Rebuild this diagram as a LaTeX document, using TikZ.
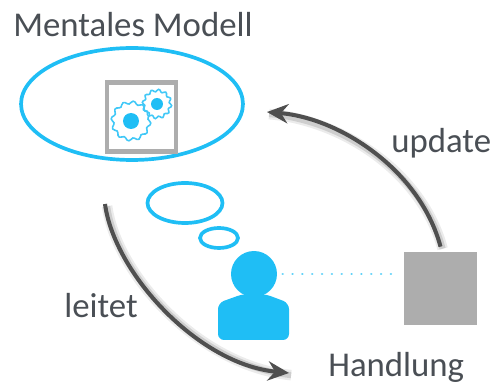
\documentclass[tikz,border=0pt]{standalone}
\usepackage{fontspec}
\setmainfont{Carlito}
\usetikzlibrary{arrows.meta,shapes.geometric}
\definecolor{himmel}{HTML}{1FBEF5}
\definecolor{grau}{HTML}{ADADAD}
\definecolor{pfeil}{HTML}{4F4F4F}
\definecolor{schrift}{HTML}{4A4F55}
\tikzset{
  wolke/.style={draw=himmel,ellipse,line width=2.1pt,inner sep=0pt},
  beschriftung/.style={text=schrift,font=\fontsize{19.8pt}{21pt}\selectfont,inner sep=0pt},
  pfeilbogen/.style={draw=pfeil,line width=2.3pt,-{Stealth[length=12pt,width=11pt,inset=4pt]},
    preaction={draw=black,opacity=0.08,line width=6pt,-,transform canvas={shift={(1.2pt,-1.2pt)}}},
    preaction={draw=black,opacity=0.12,line width=3.5pt,-,transform canvas={shift={(1.2pt,-1.2pt)}}}}
}
\newcommand{\zahnrad}[5]{%
  \draw[himmel!85,line width=0.9pt,shift={(#1,#2)}] plot[smooth cycle,domain=0:354,samples=60] (\x:{#3+#4*sin(#5*\x)});
}
\begin{document}
\begin{tikzpicture}[x=0.02cm,y=-0.02cm]
\useasboundingbox (0,0) rectangle (491,388);

\node[wolke,minimum width=4.44cm,minimum height=2.24cm] (modell) at (132,104) {};
\node[wolke,minimum width=1.5cm,minimum height=0.8cm] (gedanke) at (185,203) {};
\node[wolke,minimum width=0.76cm,minimum height=0.4cm] (blase) at (219,238) {};

% Kasten mit den Zahnraedern
\node[draw=grau,line width=2.8pt,minimum size=1.38cm,inner sep=0pt] (kasten) at (141.5,117) {};
\zahnrad{131}{121}{18.5}{1.5}{12}
\zahnrad{157}{104}{13.5}{1.3}{12}
\node[fill=himmel,circle,minimum size=0.32cm,inner sep=0pt] (rad) at (131,121) {};
\node[fill=himmel,circle,minimum size=0.24cm,inner sep=0pt] (ritzel) at (157,104) {};

% Person
\fill[himmel,rounded corners=3.5pt] (218,340) -- (218,303) -- (243,294) -- (265,294) -- (289,303) -- (289,340) -- cycle;
\node[fill=himmel,circle,minimum size=0.92cm,inner sep=0pt] (kopf) at (254,274) {};

\node[fill=grau,minimum size=1.46cm,inner sep=0pt] (handeln) at (440.5,288.5) {};

\draw[himmel!70,line width=1.4pt,dash pattern=on 0.1pt off 5.5pt,line cap=round,shorten <=3pt,shorten >=3pt] (kopf.east) -- (kopf.east -| handeln.west);

\coordinate (ziel) at (267,112);
\coordinate (start) at (105,204);
\coordinate (ende) at (289,373);
\path[pfeilbogen] (handeln.north) ++(0,-5) .. controls (420,170) and (340,118) .. (ziel);
\path[pfeilbogen] (start) .. controls (114,272) and (197,364) .. (ende);

\node[beschriftung,anchor=base west] (titel) at (13,37) {Mentales Modell};
\node[beschriftung,anchor=base west] (update) at (391,153) {update};
\node[beschriftung,anchor=base west] (leitet) at (64,318) {leitet};
\node[beschriftung,anchor=base west] (handlung) at (328,377) {Handlung};
\end{tikzpicture}
\end{document}
